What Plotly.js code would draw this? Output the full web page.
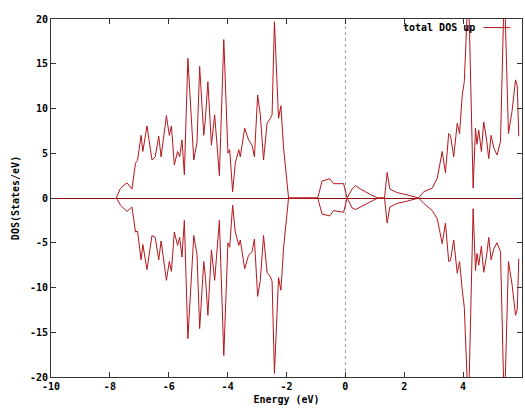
<!DOCTYPE html>
<html>
<head>
<meta charset="utf-8">
<script src="https://cdn.plot.ly/plotly-3.0.1.min.js"></script>
<style>html,body{margin:0;padding:0;background:#fff;}#chart{width:525px;height:411px;}</style>
</head>
<body>
<div id="chart"></div>
<script>
// Energy grid (eV)
var energy = [-7.78,-7.64,-7.42,-7.25,-7.13,-7.06,-6.94,-6.88,-6.74,-6.57,-6.46,-6.34,-6.26,-6.17,-6.08,-5.98,-5.91,-5.81,-5.70,-5.63,-5.55,-5.47,-5.35,-5.15,-5.04,-4.95,-4.81,-4.75,-4.67,-4.55,-4.44,-4.28,-4.13,-3.99,-3.93,-3.83,-3.74,-3.62,-3.57,-3.42,-3.29,-3.17,-3.09,-2.98,-2.89,-2.78,-2.66,-2.55,-2.49,-2.41,-2.27,-2.19,-2.10,-1.93,
  -0.94,-0.79,-0.53,-0.40,-0.06,0.06,0.23,0.34,0.51,0.85,1.10,1.33,1.42,1.51,1.76,2.10,2.49,2.66,2.95,3.12,3.29,3.40,3.51,3.57,3.68,3.80,3.88,3.97,4.04,4.18,4.34,4.42,4.47,4.53,4.62,4.70,4.79,4.87,4.95,5.04,5.15,5.27,5.40,5.54,5.66,5.78,5.84,5.89];
// total DOS, spin up (States/eV)
var dosUp = [0,1.1,1.7,1.0,3.9,4.2,7.0,5.2,8.05,4.25,4.6,6.9,4.6,7.0,9.2,7.0,8.05,3.7,5.2,4.6,6.5,2.6,15.6,4.25,6.2,14.7,7.0,9.1,13.0,5.9,9.3,2.5,17.7,5.0,5.4,0.7,3.9,5.4,4.6,7.8,6.5,5.9,4.6,11.5,9.3,4.25,8.35,8.9,9.3,19.7,8.9,10.3,5.6,0,
  0,1.9,2.15,1.6,1.6,0,1.0,1.4,1.0,0.4,0,0,2.85,1.0,0.6,0.35,0,0.7,1.1,2.2,5.2,2.8,7.2,7.0,4.6,8.35,7.2,11.5,13.0,24,1.1,7.8,6.0,7.6,5.2,8.5,6.7,4.4,7.0,5.6,4.8,6.3,24,7.2,9.65,13.2,12.5,6.9];
// total DOS, spin down (plotted negative)
var dosDown = [0,-0.8,-1.5,-1.0,-3.8,-3.7,-6.9,-5.2,-8.0,-4.2,-4.4,-6.9,-4.8,-6.8,-9.2,-7.1,-8.2,-3.8,-5.3,-4.4,-6.6,-2.5,-15.7,-4.2,-6.3,-14.6,-7.1,-9.0,-13.1,-5.8,-9.2,-2.5,-17.6,-5.0,-5.5,-0.8,-3.8,-5.3,-4.7,-7.9,-6.4,-6.0,-4.6,-11.0,-9.2,-4.2,-8.3,-8.8,-9.3,-19.6,-8.9,-10.3,-5.6,0,
  0,-1.8,-2.0,-1.4,-1.6,0,-1.1,-1.3,-1.0,-0.4,0,0,-2.8,-1.0,-0.6,-0.35,0,-0.6,-1.4,-2.3,-5.1,-2.8,-7.1,-7.0,-4.7,-8.4,-7.1,-10.3,-12.2,-24,-1.2,-8.1,-6.2,-7.5,-5.4,-8.3,-6.6,-4.4,-6.9,-5.7,-5.0,-6.0,-24,-7.1,-9.6,-13.1,-12.4,-6.8];
var xTicks = [-10,-8,-6,-4,-2,0,2,4,6];
var yTicks = [-20,-15,-10,-5,0,5,10,15,20];
var legendLabel = "total DOS up";

var lineColor = "#b3161b";
var tickFont = {family: "DejaVu Sans Mono", size: 10, color: "#000", weight: "bold"};

var traces = [
  {x: energy, y: dosUp, type: "scatter", mode: "lines", line: {color: lineColor, width: 1}, showlegend: false, hoverinfo: "skip"},
  {x: energy, y: dosDown, type: "scatter", mode: "lines", line: {color: lineColor, width: 1}, showlegend: false, hoverinfo: "skip"}
];

var axisCommon = {
  showgrid: false, showline: true, linecolor: "#333", linewidth: 1, mirror: "allticks",
  ticks: "inside", ticklen: 5, tickcolor: "#333", tickfont: tickFont
};

var layout = {
  width: 525, height: 411,
  margin: {l: 51, r: 3, t: 19, b: 34},
  paper_bgcolor: "#fff", plot_bgcolor: "#fff",
  showlegend: false,
  xaxis: Object.assign({}, axisCommon, {
    range: [-10, 6], tickvals: xTicks, ticktext: xTicks.map(String), zeroline: false,
    title: {text: "Energy (eV)", font: {family: "DejaVu Sans Mono", size: 10, color: "#000", weight: "bold"}, standoff: 4}
  }),
  yaxis: Object.assign({}, axisCommon, {
    range: [-20, 20], tickvals: yTicks, ticktext: yTicks.map(String),
    zeroline: true, zerolinecolor: "#8b1111", zerolinewidth: 1,
    title: {text: "DOS(States/eV)", font: {family: "DejaVu Sans Mono", size: 10, color: "#000", weight: "bold"}, standoff: 8}
  }),
  shapes: [
    {type: "line", xref: "x", yref: "paper", x0: 0, x1: 0, y0: 0, y1: 1, line: {color: "#999", width: 1, dash: "dot"}, layer: "below"},
    {type: "line", xref: "paper", yref: "paper", x0: 0.918, x1: 0.975, y0: 0.976, y1: 0.976, line: {color: lineColor, width: 1}}
  ],
  annotations: [
    {text: legendLabel, xref: "paper", yref: "paper", x: 0.905, y: 0.976, xanchor: "right", yanchor: "middle", showarrow: false,
     font: {family: "DejaVu Sans Mono", size: 10, color: "#000", weight: "bold"}}
  ]
};

Plotly.newPlot("chart", traces, layout, {staticPlot: true, displayModeBar: false});
</script>
</body>
</html>
